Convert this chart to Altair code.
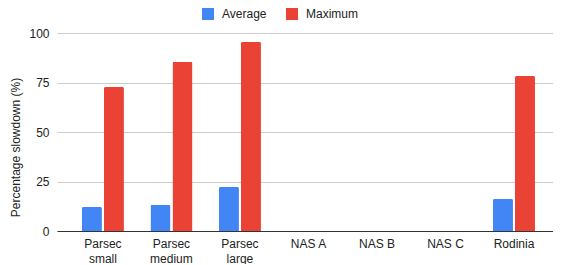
import altair as alt
import pandas as pd

categories = ["Parsec small", "Parsec medium", "Parsec large", "NAS A", "NAS B", "NAS C", "Rodinia"]
average = [12.1, 13.1, 22.2, 0, 0, 0, 16.2]
maximum = [72.7, 85.4, 95.5, 0, 0, 0, 78.3]
series = ["Average", "Maximum"]
colors = ["#4285F4", "#EA4335"]

rows = []
for c, a, m in zip(categories, average, maximum):
    rows.append({"category": c, "series": "Average", "value": a})
    rows.append({"category": c, "series": "Maximum", "value": m})
df = pd.DataFrame(rows)

FONT = "Liberation Sans"

chart = alt.Chart(df).mark_bar(cornerRadiusTopLeft=1.5, cornerRadiusTopRight=1.5).encode(
    x=alt.X("category:N", sort=categories, title=None,
            scale=alt.Scale(paddingInner=0, paddingOuter=0.12, align=0.71),
            axis=alt.Axis(labelAngle=0, ticks=False, domainColor="#333333", domainWidth=1,
                          labelColor="#222222", labelFont=FONT, labelFontSize=12,
                          labelPadding=7, labelLineHeight=15, labelBaseline="top",
                          labelExpr="indexof(datum.label,'Parsec')==0 ? split(datum.label,' ') : datum.label")),
    xOffset=alt.XOffset("series:N", sort=series,
                        scale=alt.Scale(paddingInner=0.091, paddingOuter=0.602)),
    y=alt.Y("value:Q", title="Percentage slowdown (%)",
            scale=alt.Scale(domain=[0, 100], nice=False),
            axis=alt.Axis(values=[0, 25, 50, 75, 100], ticks=False, domain=False,
                          gridColor="#cccccc", gridWidth=1,
                          labelColor="#222222", labelFont=FONT, labelFontSize=12, labelPadding=8,
                          titleColor="#222222", titleFont=FONT, titleFontSize=12,
                          titleFontWeight="normal", titleX=-35, titleY=114)),
    color=alt.Color("series:N", sort=series, scale=alt.Scale(domain=series, range=colors),
                    legend=alt.Legend(title=None, orient="none", direction="horizontal",
                                      legendX=145, legendY=-25, symbolType="square",
                                      symbolSize=144, symbolStrokeWidth=0, labelOffset=8,
                                      columnPadding=19, labelFont=FONT, labelFontSize=12,
                                      labelColor="#222222")),
).properties(
    width=496, height=198,
    autosize=alt.AutoSizeParams(type="none"),
    padding={"left": 49, "top": 25, "right": 0, "bottom": 33},
).configure_view(stroke=None).configure_axis(gridOpacity=1)

chart.save("out.html", embed_options={"renderer": "svg", "actions": False})
